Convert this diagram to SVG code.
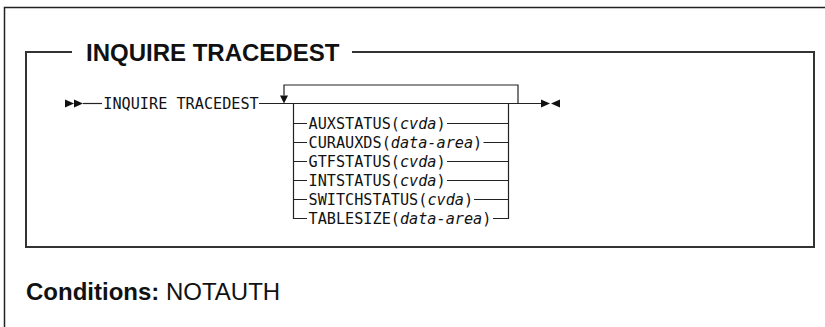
<svg xmlns="http://www.w3.org/2000/svg" width="825" height="327" viewBox="0 0 825 327">
<style>
.frame{fill:none;stroke:#222;stroke-width:1.5}
.box{fill:none;stroke:#333;stroke-width:2}
.ln{fill:none;stroke:#222;stroke-width:1.2}
.hd{font-family:"Liberation Sans",Arial,sans-serif;font-size:24px;font-weight:bold;fill:#111}
.cond{font-family:"Liberation Sans",Arial,sans-serif;font-size:24px;fill:#111}
.mono{font-family:"DejaVu Sans Mono","Liberation Mono",monospace;font-size:15.2px;fill:#111}
.it{font-style:italic}
.ah{fill:#111}
</style>
<rect width="825" height="327" fill="#fff"/>
<path class="frame" d="M4.5,327 V7.5 H825"/>
<g id="frame-box">
<path class="box" d="M72,52 H26 V247 H814 V52 H352"/>
<text class="hd" x="86" y="61">INQUIRE TRACEDEST</text>
</g>
<g id="connectors">
<path class="ah" d="M65,99.5 L74,103.5 L65,107.5 Z M74,99.5 L83,103.5 L74,107.5 Z"/>
<path class="ln" d="M83,103.5 H102"/>
<path class="ln" d="M259,103.5 H541"/>
<path class="ln" d="M284,95.5 V85 H518 V103.5"/>
<path class="ah" d="M280,95.5 L288,95.5 L284,103.5 Z"/>
<path class="ln" d="M293.5,103.5 V218.5 H307"/>
<path class="ln" d="M508.5,103.5 V218.5 H493"/>
<path class="ln" d="M293.5,123.5 H307 M447,123.5 H508.5"/>
<path class="ln" d="M293.5,142.5 H307 M483.5,142.5 H508.5"/>
<path class="ln" d="M293.5,161.5 H307 M447,161.5 H508.5"/>
<path class="ln" d="M293.5,180.5 H307 M447,180.5 H508.5"/>
<path class="ln" d="M293.5,199.5 H307 M474,199.5 H508.5"/>
<path class="ah" d="M541,99.5 L550,103.5 L541,107.5 Z M560,99.5 L551,103.5 L560,107.5 Z"/>
</g>
<g id="node-inquire"><text class="mono" x="103.3" y="109">INQUIRE TRACEDEST</text></g>
<g id="node-auxstatus"><text class="mono" x="308.5" y="129">AUXSTATUS(<tspan class="it">cvda</tspan>)</text></g>
<g id="node-curauxds"><text class="mono" x="308.5" y="148">CURAUXDS(<tspan class="it">data-area</tspan>)</text></g>
<g id="node-gtfstatus"><text class="mono" x="308.5" y="167">GTFSTATUS(<tspan class="it">cvda</tspan>)</text></g>
<g id="node-intstatus"><text class="mono" x="308.5" y="186">INTSTATUS(<tspan class="it">cvda</tspan>)</text></g>
<g id="node-switchstatus"><text class="mono" x="308.5" y="205">SWITCHSTATUS(<tspan class="it">cvda</tspan>)</text></g>
<g id="node-tablesize"><text class="mono" x="308.5" y="224">TABLESIZE(<tspan class="it">data-area</tspan>)</text></g>
<g id="conditions"><text class="cond" x="26" y="300"><tspan font-weight="bold">Conditions:</tspan> NOTAUTH</text></g>
</svg>
